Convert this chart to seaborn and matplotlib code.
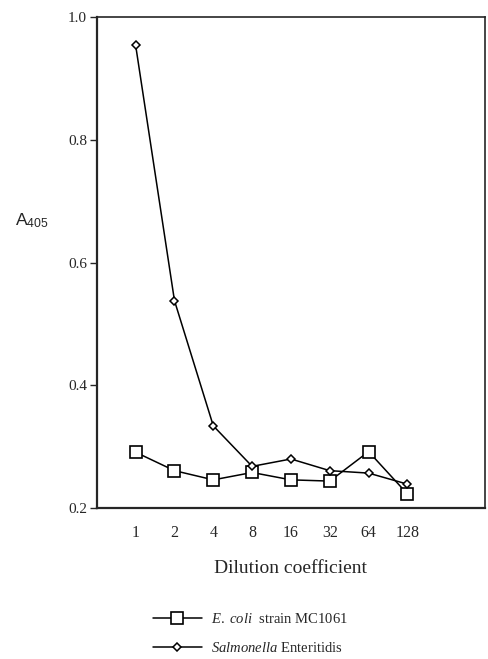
import numpy as np
import pandas as pd
import seaborn as sns
import matplotlib
matplotlib.use("Agg")
import matplotlib.pyplot as plt
from matplotlib.ticker import FixedLocator

# dilution steps (plotted at equal spacing)
dilutions = ["1", "2", "4", "8", "16", "32", "64", "128"]
positions = [1, 2, 3, 4, 5, 6, 7, 8]

ecoli = [0.291, 0.261, 0.246, 0.258, 0.246, 0.244, 0.292, 0.223]
salmonella = [0.954, 0.538, 0.334, 0.268, 0.280, 0.261, 0.257, 0.239]

y_ticks = [0.2, 0.4, 0.6, 0.8, 1.0]

df_e = pd.DataFrame({"pos": positions, "A405": ecoli})
df_s = pd.DataFrame({"pos": positions, "A405": salmonella})

sns.set_style("ticks")
plt.rcParams["font.family"] = ["Liberation Serif", "DejaVu Serif"]
plt.rcParams["mathtext.fontset"] = "custom"
plt.rcParams["mathtext.it"] = "Liberation Serif:italic"
plt.rcParams["mathtext.rm"] = "Liberation Serif"
plt.rcParams["mathtext.sf"] = "Liberation Sans"

fig = plt.figure(figsize=(4.89, 6.59), dpi=100)
ax = fig.add_axes([0.198, 0.229, 0.794, 0.745])

sns.lineplot(data=df_e, x="pos", y="A405", ax=ax, color="black", lw=1.1,
             marker="s", markersize=8, markerfacecolor="white",
             markeredgecolor="black", markeredgewidth=1.2,
             label="E. coli strain MC1061")
sns.lineplot(data=df_s, x="pos", y="A405", ax=ax, color="black", lw=1.1,
             marker="D", markersize=4.5, markerfacecolor="white",
             markeredgecolor="black", markeredgewidth=1.1,
             label="Salmonella Enteritidis")

ax.set_xlim(0, 10)
ax.set_ylim(0.2, 1.0)
ax.set_yticks(y_ticks)
ax.set_yticklabels([f"{t:.1f}" for t in y_ticks], fontsize=11)

# labels under each point, tick marks only every second step
ax.set_xticks(positions)
ax.set_xticklabels(dilutions, fontsize=11.5)
ax.tick_params(axis="x", which="major", length=0, pad=12)
ax.xaxis.set_minor_locator(FixedLocator([2, 4, 6, 8]))
ax.tick_params(axis="x", which="minor", length=5, width=1.2, direction="out")
ax.tick_params(axis="y", length=5, width=1.0, direction="out", pad=2)

for side in ["left", "bottom"]:
    ax.spines[side].set_linewidth(1.6)
for side in ["top", "right"]:
    ax.spines[side].set_visible(True)
    ax.spines[side].set_linewidth(1.2)

ax.set_xlabel("Dilution coefficient", fontsize=14, labelpad=14)
ax.set_ylabel("")
fig.text(0.03, 0.665, r"$\mathsf{A}_{\mathsf{405}}$", fontsize=12.5,
         ha="left", va="center")

ax.get_legend().remove()
handles, labels = ax.get_legend_handles_labels()
leg = fig.legend(handles, [r"$\it{E.\ coli}$  strain MC1061",
                           r"$\it{Salmonella}$ Enteritidis"],
                 loc="upper left", bbox_to_anchor=(0.30, 0.08),
                 frameon=False, fontsize=10.5, handlelength=3.4,
                 handletextpad=0.6, labelspacing=1.0, borderaxespad=0)

fig.savefig("out.png", dpi=100)
